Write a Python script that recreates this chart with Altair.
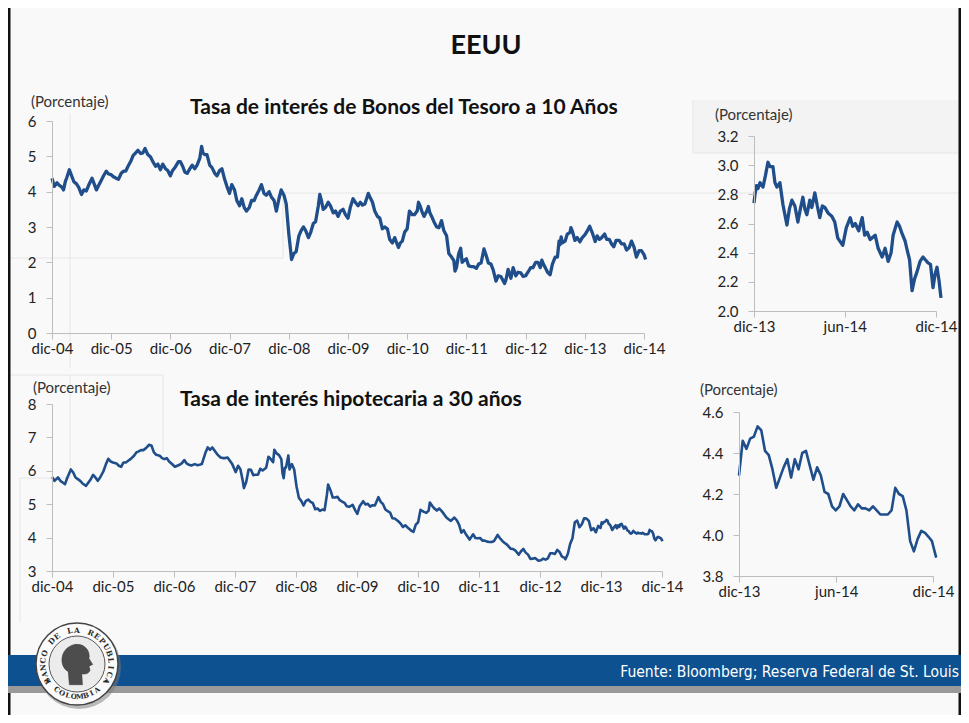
import altair as alt
import pandas as pd

W, H = 953, 707
BLUE = "#1f4e8a"
FONT = "Lato"

TITLE = "EEUU"
SUBTITLES = ["Tasa de interés de Bonos del Tesoro a 10 Años", "Tasa de interés hipotecaria a 30 años"]
UNIT = "(Porcentaje)"
SOURCE = "Fuente: Bloomberg; Reserva Federal de St. Louis"
LOGO_TOP = "BANCO DE LA REPUBLICA"
LOGO_BOTTOM = "COLOMBIA"

# ---- 10-year Treasury, Dec-04 to Dec-14 ----
TSY_DATES = [
    "2004-12-01", "2004-12-15", "2005-01-01", "2005-01-15", "2005-02-01", "2005-02-10", "2005-02-22", "2005-03-01",
    "2005-03-18", "2005-04-01", "2005-04-15", "2005-05-01", "2005-05-15", "2005-06-01", "2005-06-15", "2005-07-01",
    "2005-07-15", "2005-08-05", "2005-08-20", "2005-09-01", "2005-09-15", "2005-10-01", "2005-10-15", "2005-11-01",
    "2005-11-15", "2005-12-01", "2005-12-15", "2006-01-01", "2006-01-15", "2006-02-01", "2006-02-15", "2006-03-01",
    "2006-03-15", "2006-04-01", "2006-04-15", "2006-05-01", "2006-05-15", "2006-06-01", "2006-06-15", "2006-06-28",
    "2006-07-15", "2006-08-01", "2006-08-15", "2006-09-01", "2006-09-15", "2006-10-01", "2006-10-15", "2006-11-01",
    "2006-11-15", "2006-12-01", "2006-12-15", "2007-01-01", "2007-01-20", "2007-02-01", "2007-02-15", "2007-03-01",
    "2007-03-15", "2007-04-01", "2007-04-15", "2007-05-01", "2007-05-15", "2007-06-01", "2007-06-12", "2007-06-20",
    "2007-07-01", "2007-07-15", "2007-08-01", "2007-08-15", "2007-09-01", "2007-09-15", "2007-10-01", "2007-10-15",
    "2007-11-01", "2007-11-15", "2007-12-01", "2007-12-15", "2008-01-01", "2008-01-15", "2008-02-01", "2008-02-15",
    "2008-03-01", "2008-03-15", "2008-04-01", "2008-04-15", "2008-05-01", "2008-05-15", "2008-06-01", "2008-06-15",
    "2008-07-01", "2008-07-15", "2008-08-01", "2008-08-15", "2008-09-01", "2008-09-15", "2008-10-01", "2008-10-15",
    "2008-11-01", "2008-11-15", "2008-12-01", "2008-12-18", "2009-01-01", "2009-01-15", "2009-02-01", "2009-02-15",
    "2009-03-01", "2009-03-15", "2009-04-01", "2009-04-15", "2009-05-01", "2009-05-15", "2009-06-01", "2009-06-10",
    "2009-06-20", "2009-07-01", "2009-07-15", "2009-08-01", "2009-08-15", "2009-09-01", "2009-09-15", "2009-10-01",
    "2009-10-15", "2009-11-01", "2009-11-15", "2009-12-01", "2009-12-15", "2010-01-01", "2010-01-15", "2010-02-01",
    "2010-02-15", "2010-03-01", "2010-03-15", "2010-04-05", "2010-04-15", "2010-05-01", "2010-05-15", "2010-06-01",
    "2010-06-15", "2010-07-01", "2010-07-15", "2010-08-01", "2010-08-15", "2010-09-01", "2010-09-15", "2010-10-08",
    "2010-10-20", "2010-11-01", "2010-11-15", "2010-12-01", "2010-12-15", "2011-01-01", "2011-01-15", "2011-02-01",
    "2011-02-09", "2011-02-20", "2011-03-01", "2011-03-15", "2011-04-01", "2011-04-11", "2011-04-20", "2011-05-01",
    "2011-05-15", "2011-06-01", "2011-06-15", "2011-07-01", "2011-07-15", "2011-08-01", "2011-08-15", "2011-09-01",
    "2011-09-15", "2011-09-22", "2011-10-01", "2011-10-15", "2011-10-27", "2011-11-05", "2011-11-15", "2011-12-01",
    "2011-12-15", "2012-01-01", "2012-01-15", "2012-02-01", "2012-02-15", "2012-03-01", "2012-03-19", "2012-04-01",
    "2012-04-15", "2012-05-01", "2012-05-15", "2012-06-01", "2012-06-15", "2012-07-01", "2012-07-24", "2012-08-01",
    "2012-08-15", "2012-09-01", "2012-09-15", "2012-10-01", "2012-10-15", "2012-11-01", "2012-11-15", "2012-12-01",
    "2012-12-15", "2013-01-01", "2013-01-15", "2013-02-01", "2013-02-15", "2013-03-01", "2013-03-11", "2013-03-20",
    "2013-04-01", "2013-04-15", "2013-05-01", "2013-05-15", "2013-06-01", "2013-06-15", "2013-06-25", "2013-07-01",
    "2013-07-08", "2013-07-15", "2013-08-01", "2013-08-15", "2013-09-01", "2013-09-06", "2013-09-15", "2013-10-01",
    "2013-10-15", "2013-11-01", "2013-11-15",
]
TSY_VALUES = [
    4.38, 4.15, 4.25, 4.18, 4.12, 4.05, 4.30, 4.38,
    4.62, 4.45, 4.28, 4.22, 4.12, 3.92, 4.05, 4.02,
    4.18, 4.38, 4.20, 4.05, 4.18, 4.32, 4.45, 4.58,
    4.50, 4.48, 4.42, 4.38, 4.35, 4.52, 4.58, 4.58,
    4.72, 4.86, 5.02, 5.10, 5.17, 5.08, 5.10, 5.22,
    5.05, 4.98, 4.85, 4.72, 4.78, 4.62, 4.78, 4.65,
    4.60, 4.45, 4.60, 4.70, 4.85, 4.85, 4.72, 4.55,
    4.52, 4.65, 4.75, 4.65, 4.75, 4.95, 5.28, 5.10,
    5.05, 5.05, 4.75, 4.68, 4.52, 4.45, 4.60, 4.65,
    4.35, 4.15, 3.95, 4.20, 4.05, 3.75, 3.60, 3.80,
    3.55, 3.45, 3.55, 3.75, 3.75, 3.90, 4.05, 4.20,
    3.95, 3.90, 4.00, 3.85, 3.75, 3.45, 3.80, 4.05,
    3.90, 3.65, 2.80, 2.08, 2.25, 2.30, 2.75, 2.90,
    3.00, 2.90, 2.70, 2.85, 3.10, 3.15, 3.60, 3.92,
    3.75, 3.50, 3.55, 3.70, 3.60, 3.40, 3.45, 3.30,
    3.45, 3.50, 3.35, 3.25, 3.55, 3.80, 3.70, 3.60,
    3.70, 3.62, 3.65, 3.95, 3.85, 3.70, 3.45, 3.30,
    3.25, 2.95, 3.00, 2.95, 2.65, 2.55, 2.70, 2.42,
    2.55, 2.60, 2.85, 2.95, 3.45, 3.35, 3.35, 3.45,
    3.70, 3.58, 3.45, 3.30, 3.45, 3.58, 3.40, 3.30,
    3.15, 3.00, 2.98, 3.18, 2.90, 2.75, 2.25, 2.15,
    2.05, 1.75, 1.85, 2.25, 2.40, 2.00, 2.05, 2.10,
    1.90, 1.88, 1.88, 1.83, 1.95, 1.98, 2.38, 2.20,
    1.98, 1.95, 1.78, 1.47, 1.62, 1.60, 1.40, 1.50,
    1.80, 1.55, 1.85, 1.62, 1.72, 1.70, 1.60, 1.62,
    1.72, 1.85, 1.85, 2.00, 2.00, 1.85, 2.06, 1.95,
    1.85, 1.72, 1.65, 1.95, 2.15, 2.15, 2.60, 2.50,
    2.72, 2.55, 2.60, 2.80, 2.85, 2.98, 2.88, 2.62,
    2.70, 2.58, 2.70,
]

# ---- 10-year Treasury, Dec-13 to Dec-14 (zoom panel) ----
TSY_ZOOM_DATES = [
    "2013-12-01", "2013-12-03", "2013-12-06", "2013-12-09", "2013-12-13", "2013-12-19", "2013-12-24", "2013-12-29",
    "2014-01-02", "2014-01-08", "2014-01-12", "2014-01-16", "2014-01-22", "2014-01-28", "2014-02-05", "2014-02-10",
    "2014-02-15", "2014-02-21", "2014-02-27", "2014-03-04", "2014-03-09", "2014-03-13", "2014-03-17", "2014-03-23",
    "2014-03-27", "2014-04-02", "2014-04-07", "2014-04-12", "2014-04-17", "2014-04-22", "2014-04-29", "2014-05-06",
    "2014-05-12", "2014-05-18", "2014-05-28", "2014-06-04", "2014-06-12", "2014-06-17", "2014-06-22", "2014-06-29",
    "2014-07-06", "2014-07-11", "2014-07-16", "2014-07-22", "2014-08-01", "2014-08-07", "2014-08-15", "2014-08-21",
    "2014-08-27", "2014-09-02", "2014-09-06", "2014-09-14", "2014-09-19", "2014-09-24", "2014-09-30", "2014-10-04",
    "2014-10-09", "2014-10-14", "2014-10-19", "2014-10-24", "2014-10-30", "2014-11-05", "2014-11-10", "2014-11-15",
    "2014-11-20", "2014-11-25", "2014-11-29", "2014-12-03", "2014-12-07", "2014-12-11",
]
TSY_ZOOM_VALUES = [
    2.74, 2.80, 2.86, 2.84, 2.88, 2.85, 2.93, 3.02,
    2.99, 2.99, 2.88, 2.85, 2.88, 2.73, 2.59, 2.70,
    2.76, 2.72, 2.61, 2.70, 2.78, 2.70, 2.66, 2.76,
    2.71, 2.81, 2.72, 2.64, 2.72, 2.71, 2.67, 2.65,
    2.61, 2.50, 2.45, 2.57, 2.64, 2.58, 2.60, 2.55,
    2.64, 2.52, 2.54, 2.49, 2.52, 2.43, 2.37, 2.43,
    2.34, 2.40, 2.52, 2.61, 2.58, 2.53, 2.48, 2.42,
    2.35, 2.14, 2.22, 2.27, 2.34, 2.37, 2.35, 2.33,
    2.32, 2.16, 2.25, 2.30, 2.21, 2.09,
]

# ---- 30-year mortgage rate, Dec-04 to Nov-13 ----
MORT_DATES = [
    "2004-12-02", "2004-12-16", "2005-01-06", "2005-01-20", "2005-02-03", "2005-02-17", "2005-03-03", "2005-03-24",
    "2005-04-07", "2005-04-21", "2005-05-05", "2005-05-19", "2005-06-02", "2005-06-23", "2005-07-07", "2005-07-21",
    "2005-08-04", "2005-08-18", "2005-09-01", "2005-09-15", "2005-10-06", "2005-10-20", "2005-11-03", "2005-11-17",
    "2005-12-01", "2005-12-22", "2006-01-05", "2006-01-19", "2006-02-02", "2006-02-16", "2006-03-02", "2006-03-16",
    "2006-04-06", "2006-04-20", "2006-05-04", "2006-05-18", "2006-06-01", "2006-06-15", "2006-07-06", "2006-07-20",
    "2006-08-03", "2006-08-17", "2006-09-07", "2006-09-21", "2006-10-05", "2006-10-19", "2006-11-02", "2006-11-16",
    "2006-12-07", "2006-12-21", "2007-01-04", "2007-01-18", "2007-02-01", "2007-02-15", "2007-03-01", "2007-03-15",
    "2007-04-05", "2007-04-19", "2007-05-03", "2007-05-17", "2007-06-07", "2007-06-21", "2007-07-05", "2007-07-19",
    "2007-08-02", "2007-08-16", "2007-09-06", "2007-09-20", "2007-10-04", "2007-10-18", "2007-11-01", "2007-11-15",
    "2007-12-06", "2007-12-20", "2008-01-03", "2008-01-17", "2008-01-24", "2008-02-07", "2008-02-21", "2008-03-06",
    "2008-03-20", "2008-04-03", "2008-04-17", "2008-05-01", "2008-05-15", "2008-06-05", "2008-06-19", "2008-07-03",
    "2008-07-17", "2008-07-24", "2008-08-07", "2008-08-21", "2008-09-04", "2008-09-11", "2008-09-18", "2008-09-25",
    "2008-10-02", "2008-10-16", "2008-10-23", "2008-11-06", "2008-11-20", "2008-12-04", "2008-12-18", "2009-01-01",
    "2009-01-15", "2009-01-29", "2009-02-12", "2009-02-26", "2009-03-12", "2009-03-26", "2009-04-09", "2009-04-23",
    "2009-05-07", "2009-05-21", "2009-06-04", "2009-06-11", "2009-06-25", "2009-07-09", "2009-07-23", "2009-08-06",
    "2009-08-20", "2009-09-03", "2009-09-17", "2009-10-01", "2009-10-15", "2009-11-05", "2009-11-19", "2009-12-03",
    "2009-12-17", "2010-01-07", "2010-01-21", "2010-02-04", "2010-02-18", "2010-03-04", "2010-03-18", "2010-04-08",
    "2010-04-22", "2010-05-06", "2010-05-20", "2010-06-03", "2010-06-17", "2010-07-01", "2010-07-15", "2010-08-05",
    "2010-08-19", "2010-09-02", "2010-09-16", "2010-10-07", "2010-10-21", "2010-11-04", "2010-11-18", "2010-12-02",
    "2010-12-16", "2011-01-06", "2011-01-20", "2011-02-03", "2011-02-10", "2011-02-24", "2011-03-10", "2011-03-24",
    "2011-04-07", "2011-04-21", "2011-05-05", "2011-05-19", "2011-06-02", "2011-06-16", "2011-07-07", "2011-07-21",
    "2011-08-04", "2011-08-18", "2011-09-01", "2011-09-15", "2011-10-06", "2011-10-27", "2011-11-10", "2011-11-23",
    "2011-12-08", "2011-12-22", "2012-01-05", "2012-01-19", "2012-02-02", "2012-02-16", "2012-03-01", "2012-03-22",
    "2012-04-05", "2012-04-19", "2012-05-03", "2012-05-17", "2012-06-07", "2012-06-21", "2012-07-05", "2012-07-26",
    "2012-08-09", "2012-08-23", "2012-09-06", "2012-09-20", "2012-10-04", "2012-10-18", "2012-11-01", "2012-11-21",
    "2012-12-06", "2012-12-20", "2013-01-03", "2013-01-17", "2013-01-31", "2013-02-14", "2013-02-28", "2013-03-14",
    "2013-03-28", "2013-04-11", "2013-04-25", "2013-05-02", "2013-05-16", "2013-05-30", "2013-06-13", "2013-06-27",
    "2013-07-11", "2013-07-25", "2013-08-08", "2013-08-22", "2013-09-05", "2013-09-19", "2013-10-03", "2013-10-17",
    "2013-10-31", "2013-11-14",
]
MORT_VALUES = [
    5.81, 5.70, 5.80, 5.70, 5.65, 5.60, 5.80, 6.04,
    5.95, 5.80, 5.75, 5.70, 5.62, 5.55, 5.65, 5.75,
    5.88, 5.80, 5.70, 5.80, 6.00, 6.20, 6.36, 6.28,
    6.25, 6.22, 6.15, 6.12, 6.25, 6.25, 6.30, 6.35,
    6.45, 6.55, 6.58, 6.62, 6.62, 6.67, 6.78, 6.75,
    6.55, 6.48, 6.45, 6.38, 6.35, 6.38, 6.28, 6.22,
    6.12, 6.15, 6.18, 6.23, 6.32, 6.22, 6.18, 6.16,
    6.20, 6.17, 6.18, 6.20, 6.53, 6.70, 6.63, 6.70,
    6.60, 6.50, 6.40, 6.38, 6.38, 6.40, 6.30, 6.20,
    5.96, 6.15, 6.05, 5.70, 5.48, 5.67, 6.04, 6.03,
    5.87, 5.88, 5.88, 6.06, 6.01, 6.09, 6.42, 6.35,
    6.26, 6.63, 6.52, 6.47, 6.35, 5.93, 5.78, 6.09,
    6.10, 6.46, 6.04, 6.20, 6.04, 5.53, 5.19, 5.10,
    4.96, 5.10, 5.14, 5.07, 5.03, 4.85, 4.87, 4.80,
    4.84, 4.82, 5.29, 5.59, 5.42, 5.20, 5.20, 5.22,
    5.12, 5.08, 5.04, 4.94, 4.92, 4.98, 4.83, 4.71,
    4.94, 5.09, 4.99, 5.01, 4.93, 4.97, 4.96, 5.21,
    5.07, 5.00, 4.84, 4.79, 4.75, 4.58, 4.57, 4.49,
    4.42, 4.32, 4.37, 4.27, 4.21, 4.17, 4.39, 4.46,
    4.83, 4.77, 4.74, 4.81, 5.05, 4.95, 4.87, 4.81,
    4.87, 4.80, 4.71, 4.61, 4.55, 4.50, 4.60, 4.52,
    4.39, 4.15, 4.22, 4.09, 3.94, 4.10, 3.99, 3.98,
    3.99, 3.91, 3.91, 3.88, 3.87, 3.87, 3.90, 4.08,
    3.98, 3.90, 3.84, 3.79, 3.67, 3.66, 3.62, 3.49,
    3.59, 3.66, 3.55, 3.49, 3.36, 3.37, 3.39, 3.31,
    3.32, 3.37, 3.34, 3.38, 3.53, 3.53, 3.51, 3.63,
    3.57, 3.43, 3.40, 3.35, 3.51, 3.81, 3.98, 4.46,
    4.51, 4.31, 4.40, 4.58, 4.57, 4.50, 4.22, 4.28,
    4.16, 4.35,
]

# ---- 30-year mortgage rate, weekly, Nov-13 to Dec-14 (zoom panel) ----
MORT_ZOOM_DATES = [
    "2013-11-28", "2013-12-05", "2013-12-12", "2013-12-19", "2013-12-26", "2014-01-02", "2014-01-09", "2014-01-16",
    "2014-01-23", "2014-01-30", "2014-02-06", "2014-02-13", "2014-02-20", "2014-02-27", "2014-03-06", "2014-03-13",
    "2014-03-20", "2014-03-27", "2014-04-03", "2014-04-10", "2014-04-17", "2014-04-24", "2014-05-01", "2014-05-08",
    "2014-05-15", "2014-05-22", "2014-05-29", "2014-06-05", "2014-06-12", "2014-06-19", "2014-06-26", "2014-07-03",
    "2014-07-10", "2014-07-17", "2014-07-24", "2014-07-31", "2014-08-07", "2014-08-14", "2014-08-21", "2014-08-28",
    "2014-09-04", "2014-09-11", "2014-09-18", "2014-09-25", "2014-10-02", "2014-10-09", "2014-10-16", "2014-10-23",
    "2014-10-30", "2014-11-06", "2014-11-13", "2014-11-20", "2014-11-26", "2014-12-04",
]
MORT_ZOOM_VALUES = [
    4.29, 4.46, 4.42, 4.47, 4.48, 4.53, 4.51, 4.41,
    4.39, 4.32, 4.23, 4.28, 4.33, 4.37, 4.28, 4.37,
    4.32, 4.40, 4.41, 4.34, 4.27, 4.33, 4.29, 4.21,
    4.20, 4.14, 4.12, 4.14, 4.20, 4.17, 4.14, 4.12,
    4.15, 4.13, 4.13, 4.12, 4.14, 4.12, 4.10, 4.10,
    4.10, 4.12, 4.23, 4.20, 4.19, 4.12, 3.97, 3.92,
    3.98, 4.02, 4.01, 3.99, 3.97, 3.89,
]

# 2014 part of the long Treasury series
TSY_2014_DATES = [
    "2013-12-01", "2013-12-15", "2013-12-31", "2014-01-15", "2014-02-03", "2014-02-15", "2014-03-01", "2014-03-15",
    "2014-04-02", "2014-04-15", "2014-05-01", "2014-05-15", "2014-05-28", "2014-06-12", "2014-07-01", "2014-07-15",
    "2014-08-01", "2014-08-15", "2014-09-01", "2014-09-15", "2014-10-01", "2014-10-15", "2014-11-01", "2014-11-15",
    "2014-12-01", "2014-12-11",
]
TSY_2014_VALUES = [
    2.78, 2.88, 3.02, 2.85, 2.59, 2.75, 2.65, 2.70,
    2.80, 2.65, 2.65, 2.52, 2.44, 2.62, 2.62, 2.52,
    2.52, 2.35, 2.42, 2.60, 2.42, 2.15, 2.33, 2.33,
    2.22, 2.08,
]


def frame(dates, values):
    return pd.DataFrame({"date": dates, "value": values})


def dt(y, m, d):
    return alt.DateTime(year=y, month=m, date=d, utc=True)


tsy_long = frame(TSY_DATES + TSY_2014_DATES, TSY_VALUES + TSY_2014_VALUES)
tsy_zoom = frame(TSY_ZOOM_DATES, TSY_ZOOM_VALUES)
mort_long = frame(MORT_DATES + MORT_ZOOM_DATES, MORT_VALUES + MORT_ZOOM_VALUES)
mort_zoom = frame(MORT_ZOOM_DATES, MORT_ZOOM_VALUES)

LABEL_EXPR = "(utcmonth(datum.value) >= 9 ? 'dic-' : 'jun-') + utcFormat(datum.value, '%y')"


def panel(df, xdom, xrange, xticks, ydom, yrange, yticks, yfmt, sw):
    return alt.Chart(df).mark_line(color=BLUE, strokeWidth=sw, strokeJoin="round").encode(
        x=alt.X(
            "date:T",
            scale=alt.Scale(type="utc", domain=xdom, range=xrange, nice=False),
            axis=alt.Axis(orient="bottom", offset=yrange[0] - H, values=xticks, labelExpr=LABEL_EXPR,
                          title=None, grid=False, tickSize=6, labelPadding=2, labelBaseline="top",
                          labelFlush=False, labelOverlap=False, zindex=1),
        ),
        y=alt.Y(
            "value:Q",
            scale=alt.Scale(domain=ydom, range=yrange, nice=False, zero=False),
            axis=alt.Axis(orient="left", offset=-xrange[0], values=yticks, format=yfmt, title=None,
                          grid=False, tickSize=6, labelPadding=10, labelFlush=False, labelOverlap=False,
                          zindex=1),
        ),
    )


YEAR_TICKS = [dt(y, 12, 1) for y in range(2004, 2015)]

p1 = panel(tsy_long, [dt(2004, 12, 1), dt(2014, 12, 1)], [44, 636], YEAR_TICKS,
           [0, 6], [325, 113], [0, 1, 2, 3, 4, 5, 6], "d", 3.3)
p2 = panel(tsy_zoom, [dt(2013, 12, 1), dt(2014, 12, 1)], [746, 928],
           [dt(2013, 12, 1), dt(2014, 6, 1), dt(2014, 12, 1)],
           [2.0, 3.2], [303, 128], [2.0, 2.2, 2.4, 2.6, 2.8, 3.0, 3.2], ".1f", 3.3)
p3 = panel(mort_long, [dt(2004, 12, 1), dt(2014, 12, 1)], [44, 654], YEAR_TICKS,
           [3, 8], [563, 396], [3, 4, 5, 6, 7, 8], "d", 2.6)
p4 = panel(mort_zoom, [dt(2013, 11, 28), dt(2014, 11, 28)], [731, 925],
           [dt(2013, 11, 28), dt(2014, 5, 30), dt(2014, 11, 28)],
           [3.8, 4.6], [568, 404], [3.8, 4.0, 4.2, 4.4, 4.6], ".1f", 2.6)


def one():
    return pd.DataFrame({"k": [0]})


def box(x1, x2, y1, y2, fill, **kw):
    return alt.Chart(one()).mark_rect(fill=fill, **kw).encode(
        x=alt.value(x1), x2=alt.value(x2), y=alt.value(y1), y2=alt.value(y2))


def hline(x1, x2, y, color="#e6e6e6", w=1):
    return alt.Chart(one()).mark_rule(color=color, strokeWidth=w).encode(
        x=alt.value(x1), x2=alt.value(x2), y=alt.value(y))


def vline(x, y1, y2, color="#e6e6e6", w=1):
    return alt.Chart(one()).mark_rule(color=color, strokeWidth=w).encode(
        x=alt.value(x), y=alt.value(y1), y2=alt.value(y2))


def label(text, x, y, size, weight="normal", color="#222", align="left", font=FONT):
    return alt.Chart(pd.DataFrame({"t": [text]})).mark_text(
        align=align, baseline="alphabetic", fontSize=size, fontWeight=weight, color=color, font=font
    ).encode(x=alt.value(x), y=alt.value(y), text="t:N")


background = [
    box(685, W, 92, 145, "#f3f3f3"),
    hline(275, W, 185),
    vline(275, 185, 250),
    hline(0, 275, 250),
    vline(62, 105, 360),
    hline(685, W, 145),
    vline(685, 92, 145),
    hline(0, 155, 367),
    vline(155, 367, 445),
    vline(62, 367, 470),
    hline(12, 62, 470),
    vline(12, 470, 615),
    vline(1, 0, H, "#111111", 3),
    vline(W - 1, 0, H, "#111111", 3),
]

texts = [
    alt.Chart(pd.DataFrame({"t": [TITLE]})).mark_text(
        align="center", baseline="alphabetic", fontSize=27, fontWeight="bold", color="#111", font=FONT
    ).encode(x=alt.value(478), y=alt.value(46), text="t:N"),
    label(SUBTITLES[0], 182, 106, 21, "bold", "#111"),
    label(SUBTITLES[1], 172, 398, 21, "bold", "#111"),
    label(UNIT, 23, 99, 15, color="#333"),
    label(UNIT, 707, 112, 15, color="#333"),
    label(UNIT, 25, 385, 15, color="#333"),
    label(UNIT, 692, 387, 15, color="#333"),
]

band_grad = {
    "gradient": "linear", "x1": 0, "y1": 0, "x2": 0, "y2": 1,
    "stops": [
        {"offset": 0, "color": "#6aa3d6"},
        {"offset": 0.08, "color": "#1d67a8"},
        {"offset": 0.55, "color": "#0e5190"},
        {"offset": 1, "color": "#083a68"},
    ],
}
shadow_grad = {
    "gradient": "linear", "x1": 0, "y1": 0, "x2": 0, "y2": 1,
    "stops": [{"offset": 0, "color": "#8a8a8a"}, {"offset": 1, "color": "#f9f9f9"}],
}
footer = [
    box(0, W, 647, 678, "#0e5190", color=band_grad),
    box(0, W, 678, 685, "#9a9a9a", color=shadow_grad),
    label(SOURCE, 951, 669, 15.5, color="#ffffff", align="right",
          font="Liberation Sans Narrow, DejaVu Sans Condensed, Roboto"),
]

CX, CY = 69, 656
HEAD_PATH = ("M -0.35 0.95 L -0.4 0.35 C -0.85 0.1 -0.8 -0.75 -0.1 -0.9 C 0.4 -0.95 0.62 -0.55 0.55 -0.25 "
             "L 0.72 0.02 L 0.55 0.1 L 0.6 0.28 C 0.55 0.45 0.38 0.48 0.22 0.45 L 0.25 0.95 Z")


def disc(size, fill, stroke, sw, shape="circle"):
    return alt.Chart(one()).mark_point(shape=shape, filled=True, size=size, fill=fill, stroke=stroke,
                                       strokeWidth=sw, opacity=1).encode(x=alt.value(CX), y=alt.value(CY))


def ring_text(chars, start, step, radius, flip, size=7.5):
    rot = "(datum.a + 360) % 360" if not flip else "(datum.a + 180) % 360"
    return alt.Chart(pd.DataFrame({"ch": list(chars)})).transform_window(
        i="row_number()"
    ).transform_calculate(
        a=f"{start} + (datum.i - 1) * {step}"
    ).transform_calculate(
        px=f"{CX} + {radius} * sin(datum.a * PI / 180)",
        py=f"{CY} - {radius} * cos(datum.a * PI / 180)",
        rot=rot,
    ).mark_text(fontSize=size, fontWeight="bold", font="DejaVu Serif", color="#2a2a2a",
                baseline="middle", align="center").encode(
        x=alt.X("px:Q", scale=None, axis=None),
        y=alt.Y("py:Q", scale=None, axis=None),
        angle=alt.Angle("rot:Q", scale=None),
        text="ch:N",
    )


logo = [
    alt.Chart(one()).mark_point(shape="circle", filled=True, size=7056, fill="#7a7a7a", opacity=0.5).encode(
        x=alt.value(CX + 2), y=alt.value(CY + 3)),
    disc(6724, "#fbfbfb", "#444444", 1.5),
    disc(3136, "#ececec", "#555555", 1),
    disc(1900, "#4d4d4d", "#333333", 0.5, HEAD_PATH),
    ring_text(LOGO_TOP, -120, 12, 33.5, False),
    ring_text(LOGO_BOTTOM, 218, -10.8, 33, True, 7),
    ring_text(["•", "•"], 240, -120, 33, False),
]

chart = alt.layer(*background, p1, p2, p3, p4, *footer, *logo, *texts).resolve_scale(
    x="independent", y="independent"
).properties(
    width=W, height=H, autosize="none", padding=0, background="#f9f9f9"
).configure_view(
    strokeWidth=0
).configure_axis(
    domainColor="#bdbdbd", tickColor="#bdbdbd", labelColor="#222222", labelFont=FONT, labelFontSize=15
)

chart.save("out.html", embed_options={"renderer": "svg", "actions": False})
